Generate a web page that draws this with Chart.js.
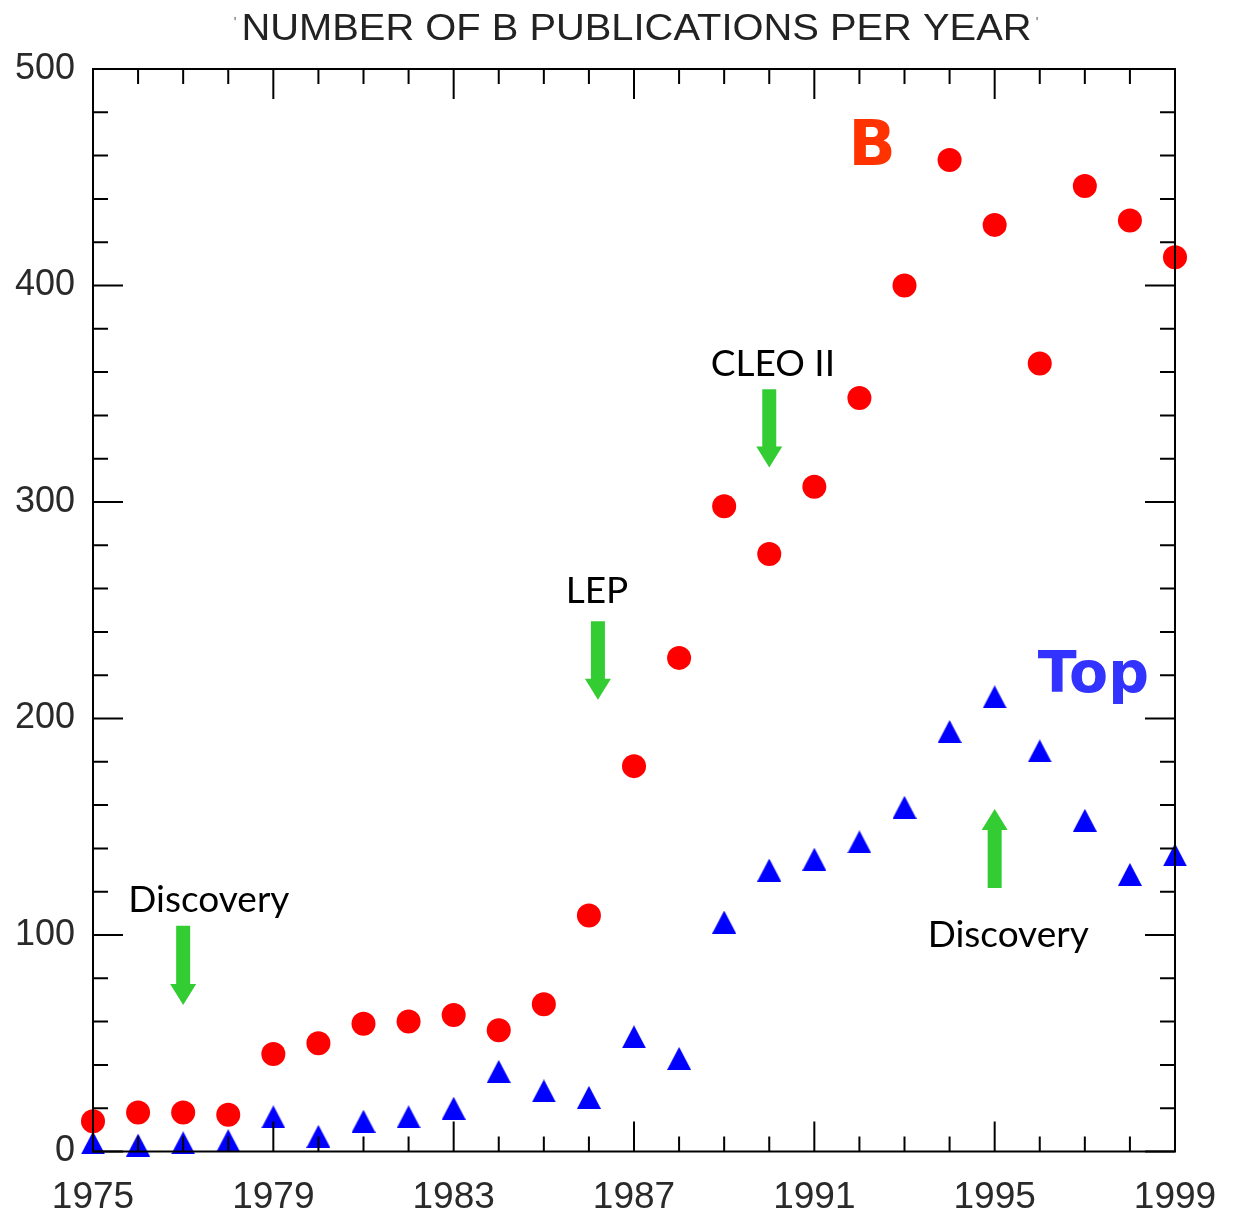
<!DOCTYPE html>
<html>
<head>
<meta charset="utf-8">
<title>Number of B publications per year</title>
<script src="https://cdn.jsdelivr.net/npm/chart.js@4.4.1/dist/chart.umd.min.js"></script>
<style>
  html, body { margin: 0; padding: 0; background: #fff; }
  #contenedor { width: 1233px; height: 1213px; }
</style>
</head>
<body>
<div id="contenedor"><canvas id="graficoPublicaciones"></canvas></div>
<script>
// Años del eje x
const anios = [1975, 1976, 1977, 1978, 1979, 1980, 1981, 1982, 1983, 1984, 1985, 1986,
               1987, 1988, 1989, 1990, 1991, 1992, 1993, 1994, 1995, 1996, 1997, 1998, 1999];

// Publicaciones por año: física del B (círculos) y quark top (triángulos)
const publicacionesB = [14, 18, 18, 17, 45, 50, 59, 60, 63, 56, 68, 109,
                        178, 228, 298, 276, 307, 348, 400, 458, 428, 364, 446, 430, 413];
const publicacionesTop = [4, 3, 4, 5, 16, 7, 14, 16, 20, 37, 28, 25,
                          53, 43, 106, 130, 135, 143, 159, 194, 210, 185, 153, 128, 137];

// Etiquetas de los ejes
const ticksX = [1975, 1979, 1983, 1987, 1991, 1995, 1999];
const ticksY = [0, 100, 200, 300, 400, 500];

// Textos y flechas (en coordenadas de datos)
const textos = [
  { texto: "Discovery", x: 1977.57, y: 110.5 },
  { texto: "LEP",       x: 1986.18, y: 253.4 },
  { texto: "CLEO II",   x: 1990.08, y: 358.2 },
  { texto: "Discovery", x: 1995.3,  y: 94.5 }
];
const flechas = [
  { x: 1977,   desde: 104.3, hasta: 67.7 },
  { x: 1986.2, desde: 244.9, hasta: 208.7 },
  { x: 1990,   desde: 352.1, hasta: 315.9 },
  { x: 1995,   desde: 121.7, hasta: 158.2 }
];

// Marcador triangular centrado en su caja (Chart.js centra las imágenes)
function crearTriangulo(ancho, alto, color) {
  const c = document.createElement("canvas");
  c.width = ancho; c.height = alto;
  const g = c.getContext("2d");
  g.fillStyle = color;
  g.beginPath();
  g.moveTo(ancho / 2, 0);
  g.lineTo(ancho, alto);
  g.lineTo(0, alto);
  g.closePath();
  g.fill();
  return c;
}
const triangulo = crearTriangulo(24, 23, "#0000ff");

// ===== PLUGIN: marco con marcas hacia dentro en los cuatro lados =====
const marcoEjes = {
  id: "marcoEjes",
  afterDatasetsDraw(chart) {
    const { ctx, chartArea: a, scales: { x, y } } = chart;
    ctx.save();
    ctx.strokeStyle = "#000";
    ctx.lineWidth = 2;
    ctx.strokeRect(a.left, a.top, a.right - a.left, a.bottom - a.top);
    ctx.beginPath();
    for (let anio = anios[0]; anio <= anios[anios.length - 1]; anio++) {
      const px = x.getPixelForValue(anio);
      const largo = ticksX.includes(anio) ? 30 : 15;
      ctx.moveTo(px, a.bottom); ctx.lineTo(px, a.bottom - largo);
      ctx.moveTo(px, a.top);    ctx.lineTo(px, a.top + largo);
    }
    for (let v = ticksY[0]; v <= ticksY[ticksY.length - 1]; v += 20) {
      const py = y.getPixelForValue(v);
      const largo = ticksY.includes(v) ? 30 : 15;
      ctx.moveTo(a.left, py);  ctx.lineTo(a.left + largo, py);
      ctx.moveTo(a.right, py); ctx.lineTo(a.right - largo, py);
    }
    ctx.stroke();
    ctx.restore();
  }
};

// ===== PLUGIN: título, rótulos B / Top y flechas verdes =====
const anotaciones = {
  id: "anotaciones",
  afterDraw(chart) {
    const { ctx, scales: { x, y } } = chart;
    ctx.save();

    // Título (estirado a lo ancho como en la figura original)
    const titulo = "NUMBER OF B PUBLICATIONS PER YEAR";
    ctx.font = "36px 'Liberation Sans', Arial, sans-serif";
    ctx.fillStyle = "#222";
    ctx.textBaseline = "alphabetic";
    const anchoTitulo = ctx.measureText(titulo).width;
    ctx.save();
    ctx.translate(241.5, 40);
    ctx.scale(790 / anchoTitulo, 1);
    ctx.textAlign = "left";
    ctx.fillText(titulo, 0, 0);
    ctx.restore();
    ctx.font = "14px 'Liberation Sans', Arial, sans-serif";
    ctx.fillStyle = "#667";
    ctx.textAlign = "center";
    ctx.fillText("'", 235, 27);
    ctx.fillText("'", 1037, 27);

    // Rótulos de las series
    ctx.font = "bold 62px 'DejaVu Sans', sans-serif";
    ctx.textAlign = "center";
    ctx.fillStyle = "#ff3300";
    ctx.fillText("B", x.getPixelForValue(1992.28), y.getPixelForValue(455.6));
    ctx.font = "bold 57px 'DejaVu Sans', sans-serif";
    ctx.fillStyle = "#3333ff";
    ctx.fillText("Top", x.getPixelForValue(1997.19), y.getPixelForValue(212.1));

    // Textos de los hitos
    ctx.font = "37px Lato, 'Liberation Sans', sans-serif";
    ctx.fillStyle = "#000";
    textos.forEach(t => {
      ctx.fillText(t.texto, x.getPixelForValue(t.x), y.getPixelForValue(t.y));
    });

    // Flechas
    ctx.fillStyle = "#33cc33";
    flechas.forEach(f => {
      const px = x.getPixelForValue(f.x);
      const y0 = y.getPixelForValue(f.desde);
      const y1 = y.getPixelForValue(f.hasta);
      const dir = y1 > y0 ? 1 : -1;
      const cabeza = 21, semiCabeza = 13, semiAsta = 7;
      ctx.beginPath();
      ctx.moveTo(px - semiAsta, y0);
      ctx.lineTo(px + semiAsta, y0);
      ctx.lineTo(px + semiAsta, y1 - dir * cabeza);
      ctx.lineTo(px + semiCabeza, y1 - dir * cabeza);
      ctx.lineTo(px, y1);
      ctx.lineTo(px - semiCabeza, y1 - dir * cabeza);
      ctx.lineTo(px - semiAsta, y1 - dir * cabeza);
      ctx.closePath();
      ctx.fill();
    });

    ctx.restore();
  }
};

const fuenteEjeX = { family: "'Liberation Sans', Arial, sans-serif", size: 37, lineHeight: 1 };
const fuenteEjeY = { family: "'Liberation Sans', Arial, sans-serif", size: 36, lineHeight: 1 };

new Chart(document.getElementById("graficoPublicaciones"), {
  type: "scatter",
  data: {
    datasets: [
      {
        label: "B",
        data: anios.map((a, i) => ({ x: a, y: publicacionesB[i] })),
        pointStyle: "circle",
        pointRadius: 12,
        pointBorderWidth: 0,
        pointBackgroundColor: "#ff0000",
        clip: false
      },
      {
        label: "Top",
        data: anios.map((a, i) => ({ x: a, y: publicacionesTop[i] })),
        pointStyle: triangulo,
        pointBackgroundColor: "#0000ff",
        clip: false
      }
    ]
  },
  options: {
    responsive: true,
    maintainAspectRatio: false,
    animation: false,
    layout: { padding: { top: 69, right: 58, left: 0, bottom: 0 } },
    plugins: {
      legend: { display: false },
      tooltip: { enabled: false },
      title: { display: false }
    },
    scales: {
      x: {
        type: "linear",
        min: anios[0],
        max: anios[anios.length - 1],
        grid: { display: false, drawTicks: false },
        border: { display: false },
        afterBuildTicks: s => { s.ticks = ticksX.map(v => ({ value: v })); },
        // tamaño fijo del eje para que el área de dibujo quede donde toca
        afterFit: s => { s.height = 61.5; s.paddingLeft = 0; s.paddingRight = 0; },
        ticks: {
          color: "#2a2a2a",
          font: fuenteEjeX,
          padding: 28,
          maxRotation: 0,
          autoSkip: false,
          callback: v => String(v)
        }
      },
      y: {
        min: ticksY[0],
        max: ticksY[ticksY.length - 1],
        grid: { display: false, drawTicks: false },
        border: { display: false },
        afterBuildTicks: s => { s.ticks = ticksY.map(v => ({ value: v })); },
        afterFit: s => { s.width = 93; s.paddingTop = 0; s.paddingBottom = 0; },
        ticks: {
          color: "#2a2a2a",
          font: fuenteEjeY,
          padding: 18,
          callback: v => String(v)
        }
      }
    }
  },
  plugins: [marcoEjes, anotaciones]
});
</script>
</body>
</html>
